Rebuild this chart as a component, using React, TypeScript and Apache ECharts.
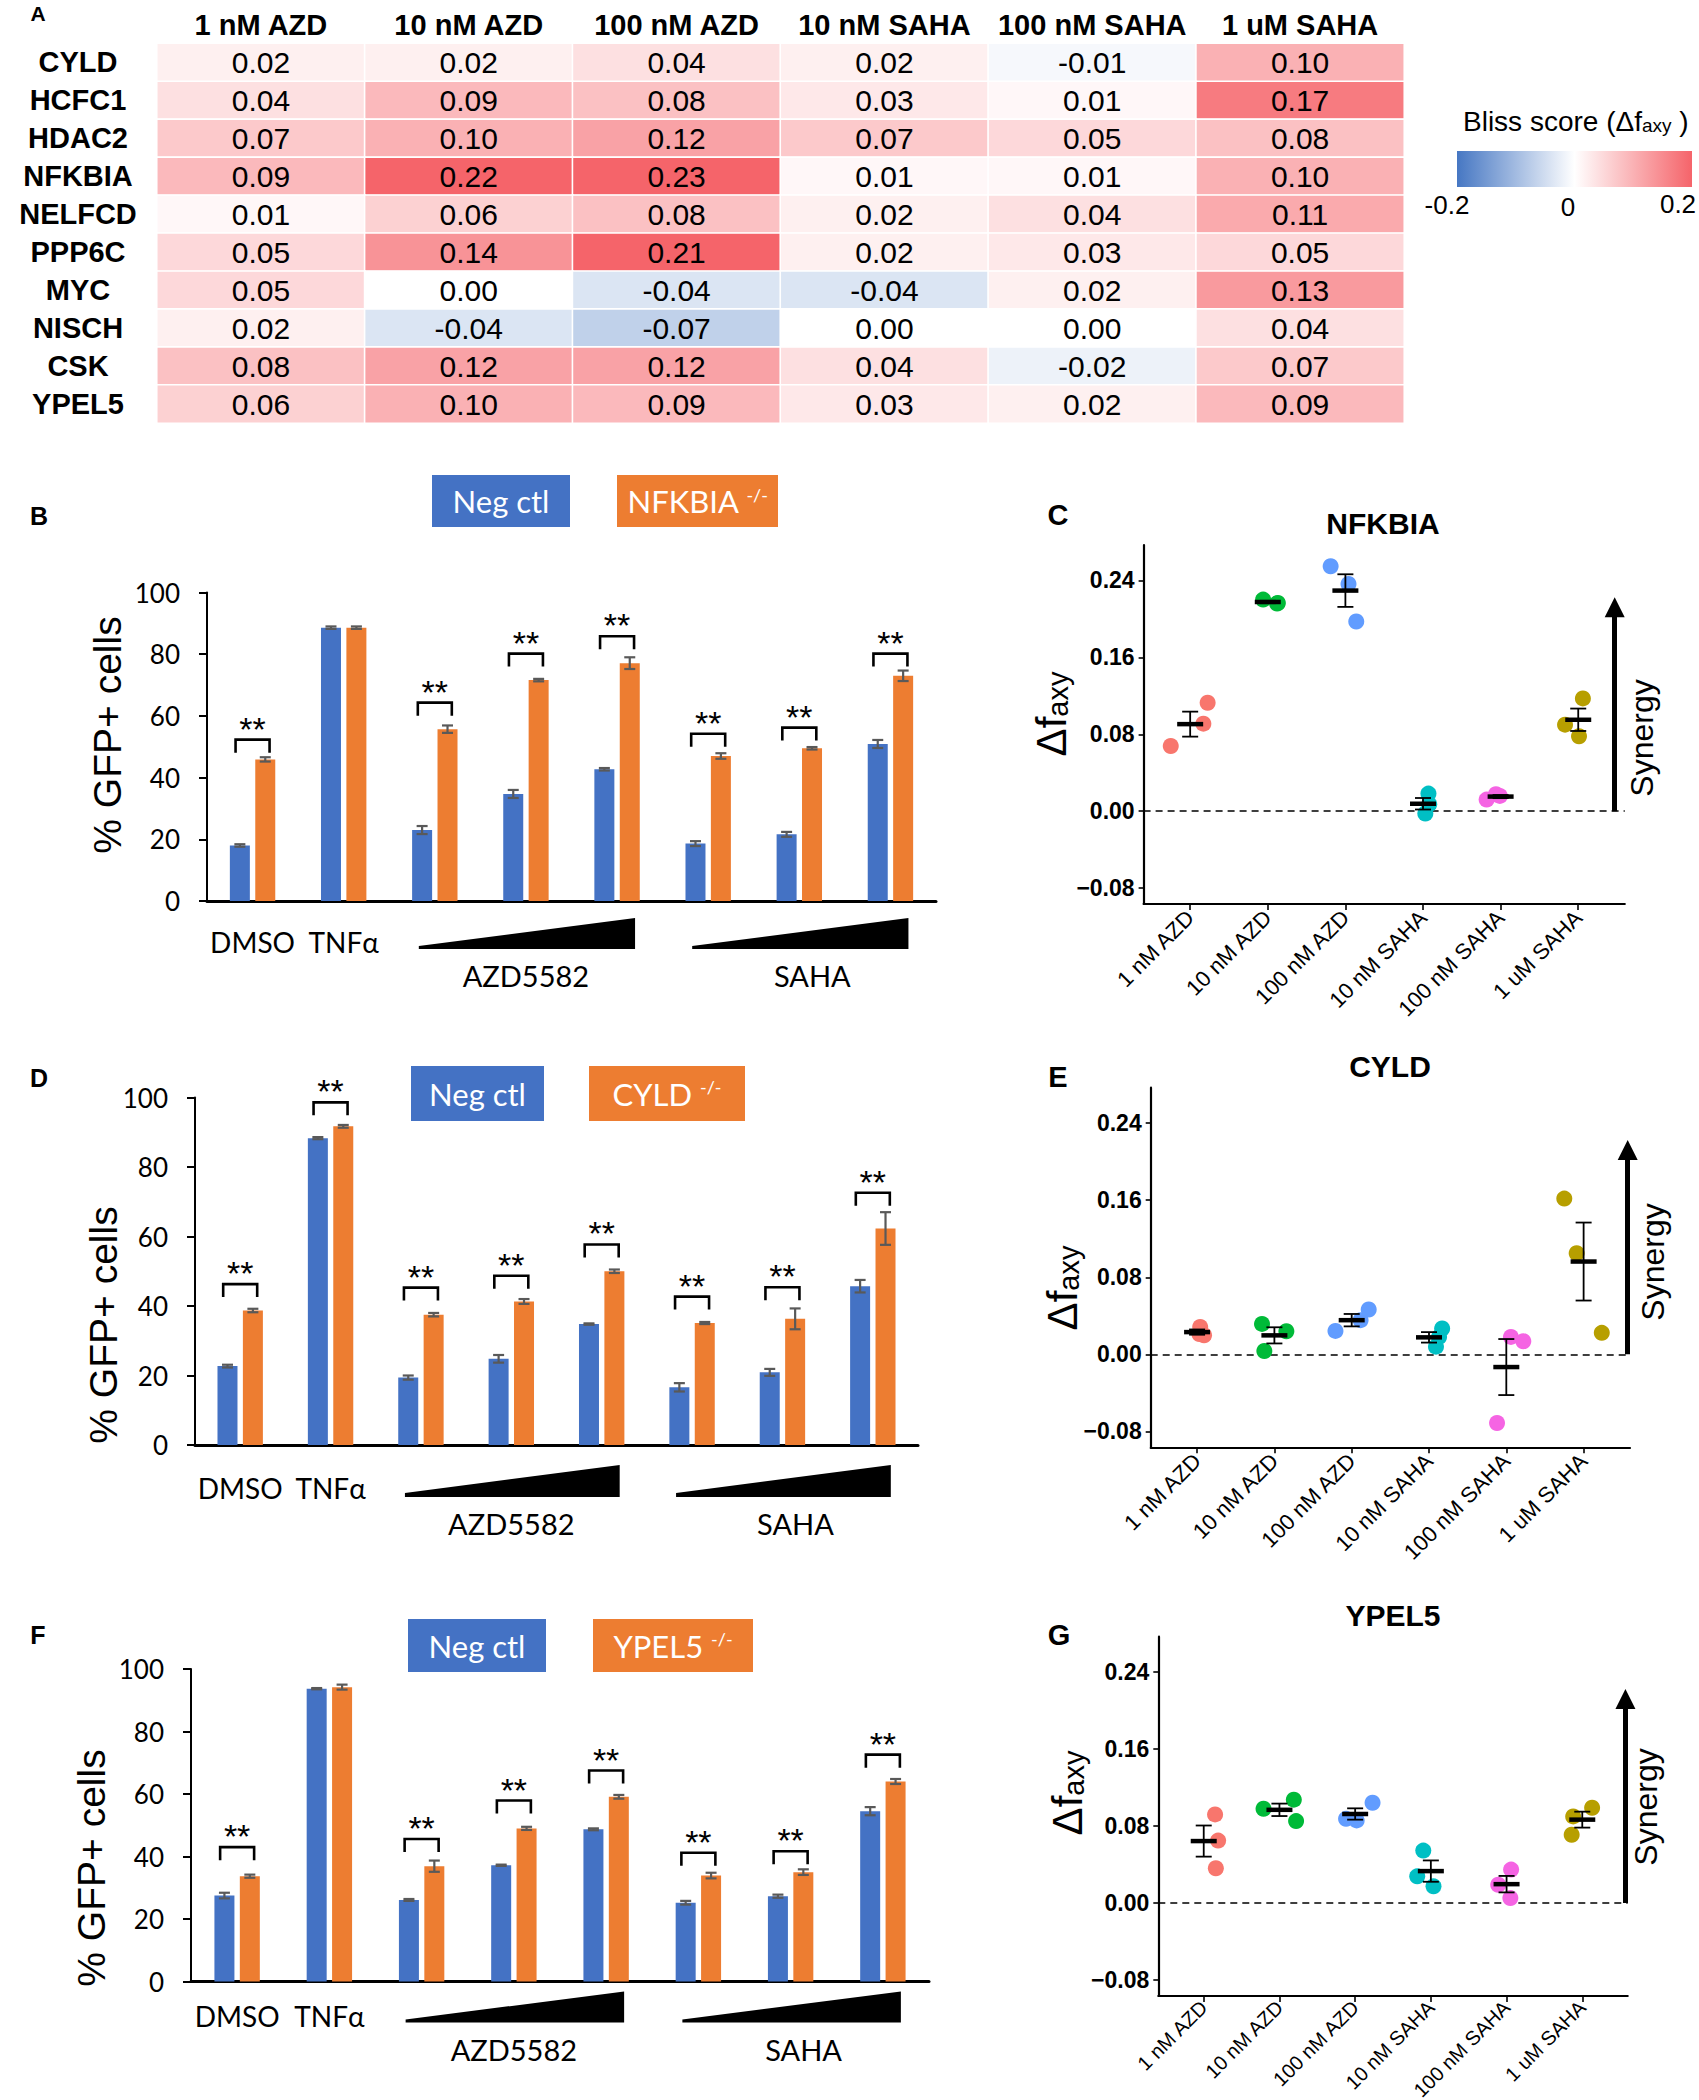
import React, { useEffect, useRef } from 'react';
import * as echarts from 'echarts';

// ================= Panel A : Bliss score heatmap =================
const heatGenes = ['CYLD', 'HCFC1', 'HDAC2', 'NFKBIA', 'NELFCD', 'PPP6C', 'MYC', 'NISCH', 'CSK', 'YPEL5'];
const treatments = ['1 nM AZD', '10 nM AZD', '100 nM AZD', '10 nM SAHA', '100 nM SAHA', '1 uM SAHA'];
const blissCYLD = [0.02, 0.02, 0.04, 0.02, -0.01, 0.10];
const blissHCFC1 = [0.04, 0.09, 0.08, 0.03, 0.01, 0.17];
const blissHDAC2 = [0.07, 0.10, 0.12, 0.07, 0.05, 0.08];
const blissNFKBIA = [0.09, 0.22, 0.23, 0.01, 0.01, 0.10];
const blissNELFCD = [0.01, 0.06, 0.08, 0.02, 0.04, 0.11];
const blissPPP6C = [0.05, 0.14, 0.21, 0.02, 0.03, 0.05];
const blissMYC = [0.05, 0.00, -0.04, -0.04, 0.02, 0.13];
const blissNISCH = [0.02, -0.04, -0.07, 0.00, 0.00, 0.04];
const blissCSK = [0.08, 0.12, 0.12, 0.04, -0.02, 0.07];
const blissYPEL5 = [0.06, 0.10, 0.09, 0.03, 0.02, 0.09];
const blissRows = [blissCYLD, blissHCFC1, blissHDAC2, blissNFKBIA, blissNELFCD, blissPPP6C, blissMYC, blissNISCH, blissCSK, blissYPEL5];
const blissRange = [-0.2, 0.2];
const blissScaleLabels = ['-0.2', '0', '0.2'];

// ================= Panels B, D, F : % GFP+ cells =================
const conditions = ['DMSO', 'TNFα', 'AZD5582 low', 'AZD5582 mid', 'AZD5582 high', 'SAHA low', 'SAHA mid', 'SAHA high'];
const labelledConditions = ['DMSO', 'TNFα'];
const doseGroups = ['AZD5582', 'SAHA'];
const doseGroupSpan = [[2, 4], [5, 7]];
const gfpTicks = [0, 20, 40, 60, 80, 100];

// B: NFKBIA
const ctlB = [18.0, 88.6, 23.0, 34.7, 42.7, 18.6, 21.6, 50.9];
const ctlBErr = [0.4, 0.4, 1.3, 1.3, 0.4, 0.8, 0.8, 1.3];
const koB = [45.9, 88.6, 55.7, 71.6, 77.1, 47.0, 49.5, 73.0];
const koBErr = [0.7, 0.4, 1.2, 0.4, 1.9, 0.9, 0.4, 1.7];
const sigB = [52.3, null, 64.3, 80.2, 85.8, 54.2, 56.2, 80.2];

// D: CYLD
const ctlD = [22.7, 88.3, 19.4, 24.8, 34.8, 16.6, 20.9, 45.7];
const ctlDErr = [0.4, 0.3, 0.6, 1.1, 0.2, 1.2, 1.0, 1.8];
const koD = [38.7, 91.7, 37.5, 41.3, 50.0, 35.1, 36.3, 62.3];
const koDErr = [0.5, 0.4, 0.5, 0.7, 0.5, 0.3, 3.0, 4.7];
const sigD = [46.3, 98.6, 45.3, 48.7, 57.7, 42.7, 45.4, 72.6];

// F: YPEL5
const ctlF = [27.5, 93.7, 26.1, 37.2, 48.7, 25.2, 27.3, 54.5];
const ctlFErr = [0.9, 0.2, 0.3, 0.2, 0.3, 0.6, 0.5, 1.3];
const koF = [33.7, 94.2, 36.9, 49.0, 59.1, 33.9, 35.0, 64.0];
const koFErr = [0.5, 0.8, 1.8, 0.5, 0.6, 0.9, 0.9, 0.8];
const sigF = [43.0, null, 45.6, 57.9, 67.5, 41.2, 41.7, 72.6];

// ================= Panels C, E, G : Δf_axy replicates =================
const deltaTicks = [-0.08, 0, 0.08, 0.16, 0.24];
const deltaAxisRange = [-0.0965, 0.2768];
const synergyArrowTop = 0.212;

const nfkbiaDelta = [
  [0.0678, 0.091, 0.1128],
  [0.220, 0.2166, 0.216],
  [0.2547, 0.2363, 0.1972],
  [0.0183, 0.0073, -0.0024],
  [0.0121, 0.0176, 0.0159],
  [0.090, 0.0779, 0.1173],
];
const nfkbiaJitter = [
  [-0.25, 0.17, 0.225],
  [-0.06, 0.13, 0.12],
  [-0.19, 0.04, 0.14],
  [0.07, 0.08, 0.03],
  [-0.18, -0.06, -0.01],
  [-0.17, 0.01, 0.06],
];
const cyldDelta = [
  [0.0285, 0.0198, 0.021],
  [0.0316, 0.024, 0.0035],
  [0.0243, 0.0355, 0.0466],
  [0.0268, 0.0181, 0.008],
  [0.0181, 0.0136, -0.0713],
  [0.1617, 0.105, 0.0223],
];
const cyldJitter = [
  [0.04, 0.09, 0.03],
  [-0.16, 0.155, -0.13],
  [-0.21, 0.115, 0.22],
  [0.17, 0.13, 0.09],
  [0.06, 0.22, -0.12],
  [-0.25, -0.09, 0.235],
];
const ypel5Delta = [
  [0.0922, 0.065, 0.0362],
  [0.0981, 0.1075, 0.0852],
  [0.0876, 0.0859, 0.1043],
  [0.0546, 0.0278, 0.0174],
  [0.0348, 0.0191, 0.0052],
  [0.0991, 0.0901, 0.071],
];
const ypel5Jitter = [
  [0.15, 0.19, 0.16],
  [-0.21, 0.19, 0.22],
  [-0.12, 0.02, 0.23],
  [-0.10, -0.18, 0.035],
  [0.06, -0.11, 0.05],
  [0.13, -0.12, -0.14],
];

// ================= styles =================
const BLUE = '#4472C4';
const ORANGE = '#ED7D31';
const ERR = '#595959';
const ARIAL = '"Liberation Sans", Arial, Helvetica, sans-serif';
const CALIBRI = 'Lato, "Open Sans", sans-serif';
const groupColors = ['#F8766D', '#00BA38', '#619CFF', '#00BFC4', '#F564E3', '#B79F00'];
const BAR_W = 20;
const BAR_OFF = 12.7;

function text(x: number, y: number, str: string, o: any = {}) {
  return {
    type: 'text',
    x, y,
    rotation: o.rotation || 0,
    z: 100,
    silent: true,
    style: {
      text: str,
      x: 0, y: 0,
      fill: o.color || '#000',
      fontSize: o.size || 24,
      fontFamily: o.family || ARIAL,
      fontWeight: o.weight || 'normal',
      align: o.align || 'center',
      verticalAlign: o.va || 'middle',
      textAlign: o.align || 'center',
      textVerticalAlign: o.va || 'middle',
      rich: o.rich,
    },
  };
}

function buildOption() {
  const grids = [
    { left: 157, top: 43.5, width: 1247, height: 379.5 },
    { left: 207, top: 592.5, width: 729, height: 308.5 },
    { left: 195, top: 1097.5, width: 723, height: 347.5 },
    { left: 191, top: 1669, width: 738, height: 312.5 },
    { left: 1143.6, top: 545, width: 481.2, height: 359 },
    { left: 1150.7, top: 1087.7, width: 479.3, height: 359.6 },
    { left: 1158.3, top: 1636.7, width: 469.4, height: 359.3 },
  ].map((g) => ({ ...g, containLabel: false, outerBoundsMode: 'none', show: false }));

  const xAxis: any[] = [];
  const yAxis: any[] = [];
  const series: any[] = [];
  const graphics: any[] = [];

  // ---------- heatmap ----------
  xAxis.push({
    type: 'category', gridIndex: 0, data: treatments, position: 'top',
    axisLine: { show: false }, axisTick: { show: false }, splitLine: { show: false },
    axisLabel: { interval: 0, margin: 19, verticalAlign: 'middle', fontSize: 29, fontWeight: 'bold', color: '#000', fontFamily: ARIAL },
  });
  yAxis.push({
    type: 'category', gridIndex: 0, data: heatGenes, inverse: true,
    axisLine: { show: false }, axisTick: { show: false }, splitLine: { show: false },
    axisLabel: { interval: 0, margin: 79, align: 'center', fontSize: 29, fontWeight: 'bold', color: '#000', fontFamily: ARIAL },
  });
  const heatData: any[] = [];
  blissRows.forEach((row, r) => row.forEach((v, c) => heatData.push([c, r, v])));
  series.push({
    type: 'heatmap', xAxisIndex: 0, yAxisIndex: 0, data: heatData,
    itemStyle: { borderColor: '#fff', borderWidth: 1.6 },
    label: {
      show: true, formatter: (p: any) => p.data[2].toFixed(2),
      fontSize: 30, color: '#000', fontFamily: ARIAL,
    },
    emphasis: { disabled: true },
  });

  // colour bar legend
  graphics.push({
    type: 'rect', shape: { x: 1457, y: 151, width: 235, height: 36 }, z: 50,
    style: {
      fill: new echarts.graphic.LinearGradient(0, 0, 1, 0, [
        { offset: 0, color: '#4677C3' },
        { offset: 0.5, color: '#FFFFFF' },
        { offset: 1, color: '#F5646A' },
      ]),
    },
  });
  graphics.push(text(1447, 205, blissScaleLabels[0], { size: 26 }));
  graphics.push(text(1568, 207, blissScaleLabels[1], { size: 26 }));
  graphics.push(text(1678, 204, blissScaleLabels[2], { size: 26 }));
  graphics.push(text(1463, 121, '{t|Bliss score (Δf}{s|axy}{t| )}', {
    align: 'left',
    rich: {
      t: { fontSize: 28, fontFamily: ARIAL, fill: '#000', color: '#000' },
      s: { fontSize: 19, fontFamily: ARIAL, fill: '#000', color: '#000', verticalAlign: 'bottom' },
    },
  }));
  graphics.push(text(38, 13, 'A', { size: 21, weight: 'bold' }));

  // ---------- bar panels ----------
  const barPanels = [
    { gi: 1, ctl: ctlB, ctlErr: ctlBErr, ko: koB, koErr: koBErr, sig: sigB, gene: 'NFKBIA', letter: 'B', letterPos: [39, 516],
      wedge: [17, 45, 48], groupDy: 74, catMargin: 27, legendY: 475, legendH: 52, blueBox: [432, 570], orangeBox: [617, 778], titleY: [107, 735] },
    { gi: 2, ctl: ctlD, ctlErr: ctlDErr, ko: koD, koErr: koDErr, sig: sigD, gene: 'CYLD', letter: 'D', letterPos: [39, 1078],
      wedge: [20, 48, 52], groupDy: 78, catMargin: 29, legendY: 1066, legendH: 55, blueBox: [411, 544], orangeBox: [589, 745], titleY: [103, 1325] },
    { gi: 3, ctl: ctlF, ctlErr: ctlFErr, ko: koF, koErr: koFErr, sig: sigF, gene: 'YPEL5', letter: 'F', letterPos: [38, 1635],
      wedge: [10, 38, 41], groupDy: 68, catMargin: 20, legendY: 1619, legendH: 53, blueBox: [408, 546], orangeBox: [593, 753], titleY: [91, 1868] },
  ];
  const groupLabelDx = [0, 13];

  barPanels.forEach((p) => {
    xAxis.push({
      type: 'category', gridIndex: p.gi, data: conditions,
      axisLine: { show: true, lineStyle: { color: '#000', width: 3 } },
      axisTick: { show: false }, splitLine: { show: false },
      axisLabel: {
        interval: 0, margin: p.catMargin, fontSize: 28, color: '#000', fontFamily: CALIBRI,
        formatter: (v: string) => (labelledConditions.indexOf(v) >= 0 ? v : ''),
      },
    });
    yAxis.push({
      type: 'value', gridIndex: p.gi, min: gfpTicks[0], max: gfpTicks[gfpTicks.length - 1], interval: 20,
      axisLine: { show: true, lineStyle: { color: '#000', width: 2 } },
      axisTick: { show: true, length: 8, lineStyle: { color: '#000', width: 2 } },
      splitLine: { show: false },
      axisLabel: { margin: 27, fontSize: 26, color: '#000', fontFamily: CALIBRI },
    });
    series.push({
      type: 'bar', xAxisIndex: p.gi, yAxisIndex: p.gi, data: p.ctl, barWidth: BAR_W, barGap: '27%',
      itemStyle: { color: BLUE }, z: 2, emphasis: { disabled: true },
    });
    series.push({
      type: 'bar', xAxisIndex: p.gi, yAxisIndex: p.gi, data: p.ko, barWidth: BAR_W, barGap: '27%',
      itemStyle: { color: ORANGE }, z: 2, emphasis: { disabled: true },
    });
    const errSeries = (vals: number[], errs: number[], off: number) => ({
      type: 'custom', xAxisIndex: p.gi, yAxisIndex: p.gi, z: 3, silent: true,
      encode: { x: 0, y: 1 },
      data: vals.map((v, i) => [i, v, errs[i]]),
      renderItem: (params: any, api: any) => {
        const i = api.value(0), v = api.value(1), e = api.value(2);
        const t = api.coord([i, v + e]);
        const b = api.coord([i, v - e]);
        const x = t[0] + off;
        const st = { stroke: ERR, lineWidth: 2.2 };
        return {
          type: 'group', children: [
            { type: 'line', shape: { x1: x, y1: t[1], x2: x, y2: b[1] }, style: st },
            { type: 'line', shape: { x1: x - 5.5, y1: t[1], x2: x + 5.5, y2: t[1] }, style: st },
            { type: 'line', shape: { x1: x - 5.5, y1: b[1], x2: x + 5.5, y2: b[1] }, style: st },
          ],
        };
      },
    });
    series.push(errSeries(p.ctl, p.ctlErr, -BAR_OFF));
    series.push(errSeries(p.ko, p.koErr, BAR_OFF));
    // significance brackets
    series.push({
      type: 'custom', xAxisIndex: p.gi, yAxisIndex: p.gi, z: 4, silent: true,
      encode: { x: 0, y: 1 },
      data: p.sig.map((s, i) => (s == null ? null : [i, s])).filter((d) => d),
      renderItem: (params: any, api: any) => {
        const c = api.coord([api.value(0), api.value(1)]);
        const x1 = c[0] - 17, x2 = c[0] + 17, y = c[1];
        return {
          type: 'group', children: [
            { type: 'polyline', shape: { points: [[x1, y + 13], [x1, y], [x2, y], [x2, y + 13]] }, style: { stroke: '#000', lineWidth: 2.6, fill: null } },
            { type: 'text', style: { text: '**', x: c[0], y: y + 6, align: 'center', verticalAlign: 'bottom', textAlign: 'center', textVerticalAlign: 'bottom', fill: '#000', fontSize: 34, fontFamily: ARIAL } },
          ],
        };
      },
    });
    // dose wedges
    series.push({
      type: 'custom', xAxisIndex: p.gi, yAxisIndex: p.gi, z: 4, silent: true,
      encode: { x: [0, 1] },
      data: doseGroupSpan.map((s, k) => [s[0], s[1], k]),
      renderItem: (params: any, api: any) => {
        const a = api.coord([api.value(0), 0]);
        const b = api.coord([api.value(1), 0]);
        const m = api.coord([(api.value(0) + api.value(1)) / 2, 0]);
        const k = api.value(2);
        const y0 = a[1];
        const x1 = a[0] - 16, x2 = b[0] + 18;
        return {
          type: 'group', children: [
            { type: 'polygon', shape: { points: [[x1, y0 + p.wedge[1]], [x2, y0 + p.wedge[0]], [x2, y0 + p.wedge[2]], [x1, y0 + p.wedge[2]]] }, style: { fill: '#000' } },
            { type: 'text', style: { text: doseGroups[k], x: m[0] + groupLabelDx[k], y: y0 + p.groupDy, align: 'center', verticalAlign: 'middle', textAlign: 'center', textVerticalAlign: 'middle', fill: '#000', fontSize: 29, fontFamily: CALIBRI } },
          ],
        };
      },
    });

    // legend boxes
    graphics.push({ type: 'rect', z: 50, shape: { x: p.blueBox[0], y: p.legendY, width: p.blueBox[1] - p.blueBox[0], height: p.legendH }, style: { fill: BLUE } });
    graphics.push({ type: 'rect', z: 50, shape: { x: p.orangeBox[0], y: p.legendY, width: p.orangeBox[1] - p.orangeBox[0], height: p.legendH }, style: { fill: ORANGE } });
    graphics.push(text((p.blueBox[0] + p.blueBox[1]) / 2, p.legendY + p.legendH / 2, 'Neg ctl', { size: 31, family: CALIBRI, color: '#fff' }));
    graphics.push(text((p.orangeBox[0] + p.orangeBox[1]) / 2, p.legendY + p.legendH / 2, '{n|' + p.gene + ' }{s|-/-}', {
      rich: {
        n: { fontSize: 31, fontFamily: CALIBRI, fill: '#fff', color: '#fff' },
        s: { fontSize: 18, fontFamily: CALIBRI, fill: '#fff', color: '#fff', verticalAlign: 'top' },
      },
    }));
    graphics.push(text(p.titleY[0], p.titleY[1], '% GFP+ cells', { size: 39, rotation: Math.PI / 2 }));
    graphics.push(text(p.letterPos[0], p.letterPos[1], p.letter, { size: 25, weight: 'bold' }));
  });

  // ---------- scatter panels ----------
  const scPanels = [
    { gi: 4, delta: nfkbiaDelta, jit: nfkbiaJitter, title: 'NFKBIA', titlePos: [1383, 523], letter: 'C', letterPos: [1058, 515], dPos: [1051, 714], synPos: [1642, 738], arrowX: 6.47, xFont: 22 },
    { gi: 5, delta: cyldDelta, jit: cyldJitter, title: 'CYLD', titlePos: [1390, 1066], letter: 'E', letterPos: [1058, 1077], dPos: [1062, 1288], synPos: [1653, 1262], arrowX: 6.57, xFont: 22 },
    { gi: 6, delta: ypel5Delta, jit: ypel5Jitter, title: 'YPEL5', titlePos: [1393, 1615], letter: 'G', letterPos: [1059, 1635], dPos: [1067, 1793], synPos: [1646, 1807], arrowX: 6.57, xFont: 20 },
  ];
  const catPos = treatments.map((_, i) => i + 1);

  scPanels.forEach((p) => {
    xAxis.push({
      type: 'value', gridIndex: p.gi, min: 0.4, max: 6.6,
      axisLine: { show: true, onZero: false, lineStyle: { color: '#000', width: 2.2 } },
      axisTick: { show: true, customValues: catPos, length: 6, lineStyle: { color: '#000', width: 1.6 } },
      splitLine: { show: false },
      axisLabel: {
        customValues: catPos, rotate: 45, margin: p.xFont < 22 ? 8 : 10, fontSize: p.xFont, color: '#000', fontFamily: ARIAL,
        formatter: (v: number) => treatments[Math.round(v) - 1] || '',
      },
    });
    yAxis.push({
      type: 'value', gridIndex: p.gi, min: deltaAxisRange[0], max: deltaAxisRange[1],
      axisLine: { show: true, onZero: false, lineStyle: { color: '#000', width: 2.2 } },
      axisTick: { show: true, customValues: deltaTicks, length: 5, lineStyle: { color: '#000', width: 1.6 } },
      splitLine: { show: false },
      axisLabel: {
        customValues: deltaTicks, margin: 9, fontSize: 23, fontWeight: 'bold', color: '#000', fontFamily: ARIAL,
        formatter: (v: number) => (v < -1e-9 ? '\u2212' : '') + Math.abs(v).toFixed(2),
      },
    });
    const pts: any[] = [];
    const stats: any[] = [];
    p.delta.forEach((grp, g) => {
      grp.forEach((v, k) => pts.push([g + 1 + p.jit[g][k], v, g]));
      const n = grp.length;
      const mean = grp.reduce((a, b) => a + b, 0) / n;
      const sd = Math.sqrt(grp.reduce((a, b) => a + (b - mean) * (b - mean), 0) / (n - 1));
      stats.push([g + 1, mean, sd / Math.sqrt(n)]);
    });
    series.push({
      type: 'scatter', xAxisIndex: p.gi, yAxisIndex: p.gi, data: pts, symbolSize: 16, z: 3, silent: true,
      itemStyle: { color: (q: any) => groupColors[q.data[2]], opacity: 1 },
      markLine: {
        silent: true, symbol: ['none', 'none'], label: { show: false }, z: 2,
        data: [
          { yAxis: 0, lineStyle: { type: [7, 5], color: '#000', width: 1.6 } },
          [
            { coord: [p.arrowX, 0], symbol: 'none', lineStyle: { type: 'solid', color: '#000', width: 5 } },
            { coord: [p.arrowX, synergyArrowTop], symbol: 'triangle', symbolSize: [20, 20], lineStyle: { type: 'solid', color: '#000', width: 5 } },
          ],
        ],
      },
    });
    series.push({
      type: 'custom', xAxisIndex: p.gi, yAxisIndex: p.gi, z: 5, silent: true,
      encode: { x: 0, y: 1 },
      data: stats,
      renderItem: (params: any, api: any) => {
        const x = api.value(0), m = api.value(1), se = api.value(2);
        const c = api.coord([x, m]);
        const t = api.coord([x, m + se]);
        const b = api.coord([x, m - se]);
        const st = { stroke: '#000', lineWidth: 1.8 };
        return {
          type: 'group', children: [
            { type: 'line', shape: { x1: c[0], y1: t[1], x2: c[0], y2: b[1] }, style: st },
            { type: 'line', shape: { x1: c[0] - 8, y1: t[1], x2: c[0] + 8, y2: t[1] }, style: st },
            { type: 'line', shape: { x1: c[0] - 8, y1: b[1], x2: c[0] + 8, y2: b[1] }, style: st },
            { type: 'line', shape: { x1: c[0] - 13, y1: c[1], x2: c[0] + 13, y2: c[1] }, style: { stroke: '#000', lineWidth: 4.5 } },
          ],
        };
      },
    });
    graphics.push(text(p.titlePos[0], p.titlePos[1], p.title, { size: 30, weight: 'bold' }));
    graphics.push(text(p.letterPos[0], p.letterPos[1], p.letter, { size: 29, weight: 'bold' }));
    graphics.push(text(p.synPos[0], p.synPos[1], 'Synergy', { size: 32, rotation: Math.PI / 2 }));
    graphics.push(text(p.dPos[0], p.dPos[1], '{d|Δf}{s|axy}', {
      rotation: Math.PI / 2,
      rich: {
        d: { fontSize: 42, fontFamily: ARIAL, fill: '#000', color: '#000' },
        s: { fontSize: 29, fontFamily: ARIAL, fill: '#000', color: '#000', verticalAlign: 'bottom' },
      },
    }));
  });

  return {
    animation: false,
    backgroundColor: '#fff',
    grid: grids,
    xAxis,
    yAxis,
    visualMap: [{
      type: 'continuous', show: false, seriesIndex: 0, dimension: 2,
      min: blissRange[0], max: blissRange[1],
      inRange: { color: ['#4A7BC3', '#FFFFFF', '#F5646A'] },
    }],
    series,
    graphic: { elements: graphics },
  };
}

export default function App() {
  const ref = useRef<HTMLDivElement>(null);
  useEffect(() => {
    const chart = echarts.init(ref.current as HTMLDivElement, null, { renderer: 'svg', width: 1699, height: 2100 });
    chart.setOption(buildOption() as any);
    return () => chart.dispose();
  }, []);
  return (
    <div
      ref={ref}
      style={{ position: 'absolute', left: 0, top: 0, width: 1699, height: 2100, background: '#fff' }}
    />
  );
}
